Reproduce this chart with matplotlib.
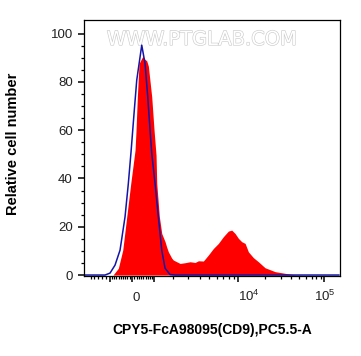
import numpy as np
import matplotlib
matplotlib.use("Agg")
import matplotlib.pyplot as plt
import matplotlib.patheffects as pe
from matplotlib.ticker import FixedLocator, FixedFormatter

plt.rcParams['font.family'] = ['Liberation Sans', 'DejaVu Sans']

# ---------------- data ----------------
# blue (control) histogram: fluorescence value, relative count
blue_x = [-2400, -1237, -994, -760, -532, -309, -163, -44, 88, 207, 429,
          577, 700, 806, 884, 1042, 1202, 1372, 1544, 1816, 2107, 150000]
blue_y = [0, 0, 0.8, 4.1, 10.3, 24.1, 37.9, 51.0, 66.9, 80.7, 95.2,
          87.6, 73.8, 60.0, 50.5, 37.9, 24.1, 10.3, 2.8, 0.2, 0, 0]

# red (CD9 stained) histogram
red_x = [-2400, -852, -609, -411, -234, -57, 132, 176, 234, 309, 474,
         555, 654, 728, 884, 994, 1090, 1123, 1252, 1372, 1544, 1633,
         1721, 1910, 2005, 2421, 2762, 3135, 3546, 3842, 4332, 4882,
         5501, 6199, 6990, 7890, 8561, 9297, 10084, 10964, 11926, 12955,
         14710, 16728, 19916, 25924, 33888, 44452, 58360, 150000]
red_y = [0, 0, 2.8, 10.3, 24.1, 37.9, 51.7, 60.0, 73.8, 87.6, 90.6,
         89.5, 88.7, 86.5, 73.8, 60.0, 49.6, 37.9, 24.1, 17.2, 13.8, 11.5,
         9.6, 7.0, 6.2, 4.8, 5.1, 5.5, 5.2, 5.9, 5.8, 8.3,
         11.0, 13.1, 15.9, 18.2, 18.6, 17.2, 15.2, 13.8, 13.1, 9.6,
         7.2, 5.5, 3.0, 1.4, 0.7, 0.1, 0, 0]

y_ticks = [0, 20, 40, 60, 80, 100]
y_tick_labels = ['0', '20', '40', '60', '80', '100']
x_major = [-1000, 0, 1000, 10000, 100000]
x_major_labels = ['', '0', '', r'$\mathregular{10^4}$', r'$\mathregular{10^5}$']
x_minor = ([-2000, -1800, -1600, -1400, -1200]
           + [-100 * i for i in range(1, 10)] + [100 * i for i in range(1, 10)]
           + [1000 * i for i in range(2, 10)] + [10000 * i for i in range(2, 10)])

x_label = 'CPY5-FcA98095(CD9),PC5.5-A'
y_label = 'Relative cell number'
watermark = 'WWW.PTGLAB.COM'

# ---------------- biexponential (logicle-like) scale ----------------
A_, K_, P_ = 400.0, 35.0, 2.85

def inv(u):
    u = np.asarray(u, dtype=float)
    a = np.abs(u)
    v = A_ * (np.exp(a / K_) - P_ ** 2 * np.exp(-a / (P_ * K_)) + P_ ** 2 - 1)
    return np.sign(u) * v

_ugrid = np.linspace(-400, 400, 40001)
_xgrid = inv(_ugrid)

def fwd(x):
    x = np.asarray(x, dtype=float)
    return np.interp(x, _xgrid, _ugrid)

# ---------------- figure ----------------
W, H = 361, 356
fig = plt.figure(figsize=(W / 100, H / 100), dpi=100)
ax = fig.add_axes([83.7 / W, 1 - 276 / H, (340 - 83.7) / W, (276 - 20.3) / H])
ax.set_xscale('function', functions=(fwd, inv))
ax.set_xlim(-2440, 154800)
ax.set_ylim(-0.4, 105.5)

ax.fill_between(red_x, red_y, 0, color='#ff0000', lw=0, zorder=2)
ax.plot(blue_x, blue_y, color='#1414a8', lw=1.1, zorder=3)

for s in ax.spines.values():
    s.set_linewidth(0.9)
    s.set_color('black')
    s.set_zorder(4)

ax.yaxis.set_major_locator(FixedLocator(y_ticks))
ax.yaxis.set_major_formatter(FixedFormatter(y_tick_labels))
ax.yaxis.set_minor_locator(FixedLocator([v for v in range(0, 105, 5) if v % 20]))
ax.xaxis.set_major_locator(FixedLocator(x_major))
ax.xaxis.set_major_formatter(FixedFormatter(x_major_labels))
ax.xaxis.set_minor_locator(FixedLocator(x_minor))

ax.tick_params(which='major', length=4.3, width=1.1, color='black',
               labelsize=9.5, labelcolor='#222222')
ax.tick_params(which='minor', length=2.2, width=0.9, color='black')
ax.tick_params(axis='y', pad=3.6)
ax.tick_params(axis='x', pad=14)

fig.canvas.draw()
xl = ax.get_xticklabels()
for i, lab in enumerate(xl):
    lab.set_verticalalignment('baseline')
    if i in (1, 3):
        lab.set_horizontalalignment('left')

ax.set_xlabel(x_label, fontsize=10, fontweight='bold')
ax.set_ylabel(y_label, fontsize=10.5, fontweight='bold')
ax.xaxis.set_label_coords(0.5, -0.184)
ax.yaxis.set_label_coords(-0.2485, 0.518)

ax.text(0.462, 0.925, watermark, transform=ax.transAxes, ha='center', va='center',
        fontsize=14, color='white', zorder=1, family='DejaVu Sans',
        path_effects=[pe.withStroke(linewidth=0.9, foreground='#cccccc')])

fig.savefig('out.png', dpi=100)
